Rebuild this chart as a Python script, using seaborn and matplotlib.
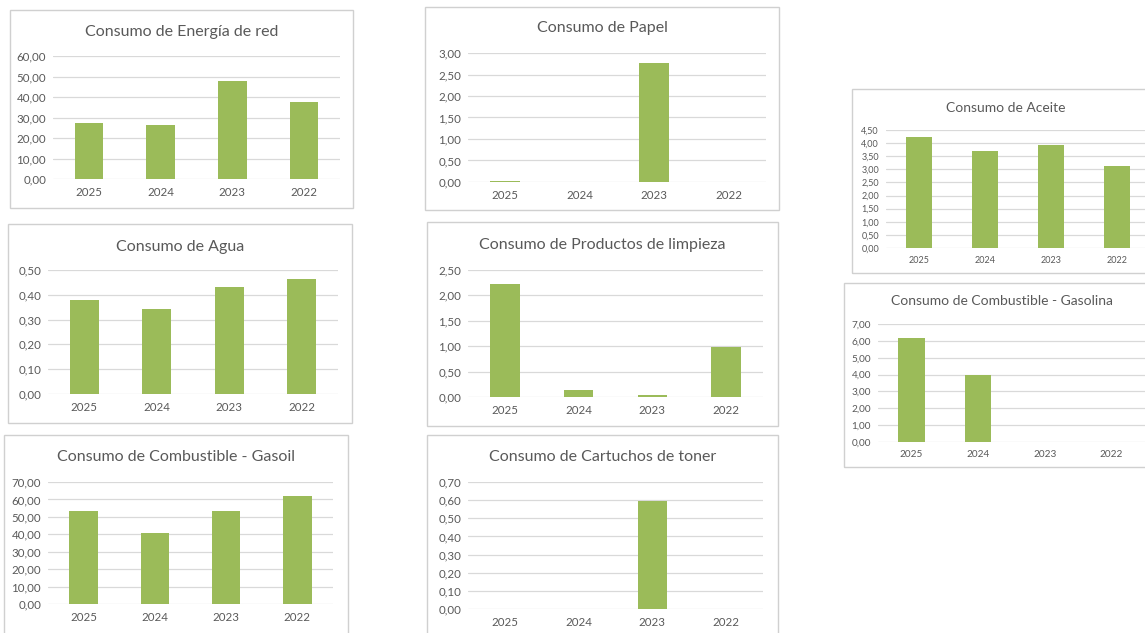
#!/usr/bin/env python3
# plot.py
# Panel de consumos anuales (8 graficos de barras estilo Excel) en una sola imagen

import matplotlib
matplotlib.use("Agg")
import matplotlib.pyplot as plt
from matplotlib.patches import Rectangle
from matplotlib.ticker import MultipleLocator, FuncFormatter
import seaborn as sns

# -------------------------
# Data
# -------------------------
years = ["2025", "2024", "2023", "2022"]

energia = [27.3, 26.3, 47.8, 37.6]
agua = [0.381, 0.343, 0.430, 0.464]
gasoil = [53.4, 40.8, 53.2, 61.8]
papel = [0.03, 0.0, 2.77, 0.0]
limpieza = [2.22, 0.13, 0.03, 0.98]
toner = [0.0, 0.0, 0.595, 0.0]
aceite = [4.25, 3.69, 3.91, 3.14]
gasolina = [6.15, 3.97, 0.0, 0.0]

titles = [
    "Consumo de Energía de red",
    "Consumo de Agua",
    "Consumo de Combustible - Gasoil",
    "Consumo de Papel",
    "Consumo de Productos de limpieza",
    "Consumo de Cartuchos de toner",
    "Consumo de Aceite",
    "Consumo de Combustible - Gasolina",
]
series = [energia, agua, gasoil, papel, limpieza, toner, aceite, gasolina]
y_max = [60, 0.5, 70, 3.0, 2.5, 0.7, 4.5, 7.0]
y_step = [10, 0.1, 10, 0.5, 0.5, 0.1, 0.5, 1.0]

# -------------------------
# Layout (pixels on a 1145x633 canvas)
# frame box, plot box (left, top, right, bottom), title centre y, title size, tick size
# -------------------------
W, H = 1145, 633
layout = [
    ((10, 10, 353, 208), (53, 56, 340, 179), 32, 11.5, 8.3),
    ((8, 224, 352, 423), (48, 270, 338, 394), 247, 11.5, 8.3),
    ((4, 435, 348, 660), (48, 482, 333, 604), 457, 11.5, 8.3),
    ((425, 7, 779, 210), (468, 53, 766, 182), 28, 11.5, 8.3),
    ((427, 222, 778, 426), (468, 270, 763, 397), 245, 11.5, 8.3),
    ((427, 435, 778, 660), (468, 482, 763, 609), 457, 11.5, 8.3),
    ((852, 89, 1160, 273), (886, 130, 1150, 248), 108, 10.0, 6.5),
    ((844, 283, 1160, 467), (878, 324, 1145, 442), 301, 10.0, 7.2),
]

BAR = "#9BBB59"
GRID = "#D9D9D9"
FRAME = "#D0D0D0"
TEXT = "#595959"

sns.set_style("white")
plt.rcParams["font.family"] = ["Lato", "DejaVu Sans"]


def comma_fmt(v, _pos):
    return f"{v:.2f}".replace(".", ",")


def to_fig(x0, y0, x1, y1):
    return [x0 / W, 1 - y1 / H, (x1 - x0) / W, (y1 - y0) / H]


def draw_panel(fig, title, values, ymax, step, frame, plot, title_y, title_size, tick_size):
    fx = to_fig(*frame)
    fig.add_artist(Rectangle((fx[0], fx[1]), fx[2], fx[3], transform=fig.transFigure,
                             fill=False, edgecolor=FRAME, linewidth=1.0))
    fig.text((frame[0] + frame[2]) / 2 / W, 1 - title_y / H, title,
             ha="center", va="center", fontsize=title_size, color=TEXT)

    ax = fig.add_axes(to_fig(*plot))
    sns.barplot(x=years, y=values, color=BAR, saturation=1, width=0.4,
                linewidth=0, ax=ax)
    ax.set_xlim(-0.5, 3.5)
    ax.set_ylim(0, ymax)
    ax.yaxis.set_major_locator(MultipleLocator(step))
    ax.yaxis.set_major_formatter(FuncFormatter(comma_fmt))
    ax.set_axisbelow(True)
    ax.grid(axis="y", color=GRID, linewidth=0.9)
    ax.grid(axis="x", visible=False)
    for side in ["top", "right", "left", "bottom"]:
        ax.spines[side].set_visible(False)
    ax.tick_params(length=0, labelsize=tick_size, labelcolor=TEXT)
    ax.tick_params(axis="y", pad=5)
    ax.tick_params(axis="x", pad=6)
    ax.set(xlabel="", ylabel="")
    ax.patch.set_alpha(0)


def main():
    fig = plt.figure(figsize=(W / 100, H / 100), dpi=100)
    fig.patch.set_facecolor("white")
    for title, values, ymax, step, lay in zip(titles, series, y_max, y_step, layout):
        frame, plot, title_y, title_size, tick_size = lay
        draw_panel(fig, title, values, ymax, step, frame, plot, title_y, title_size, tick_size)
    fig.savefig("out.png", dpi=100)
    plt.close(fig)


if __name__ == "__main__":
    main()
